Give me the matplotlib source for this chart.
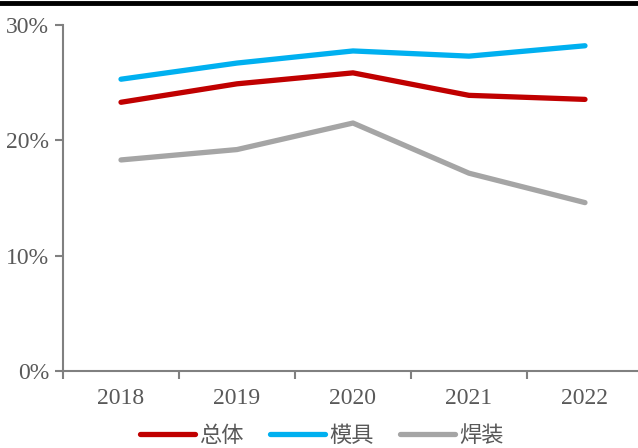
import matplotlib
matplotlib.use("Agg")
from matplotlib import pyplot as plt
from matplotlib.ticker import FuncFormatter, FixedLocator, NullFormatter

years = ["2018", "2019", "2020", "2021", "2022"]
total = [23.3, 24.9, 25.85, 23.9, 23.55]
mould = [25.3, 26.7, 27.75, 27.3, 28.2]
welding = [18.3, 19.2, 21.5, 17.15, 14.6]

labels = ["总体", "模具", "焊装"]
colors = ["#C00000", "#00B0F0", "#A5A5A5"]

tick_color = "#595959"
axis_color = "#808080"

fig = plt.figure(figsize=(6.38, 4.48), dpi=100)
ax = fig.add_axes([63 / 638, 1 - 371 / 448, 1 - 63 / 638, (371 - 25) / 448])

x = range(len(years))
for series, label, color in zip([total, mould, welding], labels, colors):
    ax.plot(x, series, color=color, lw=3.8, solid_capstyle="round",
            solid_joinstyle="round", label=label)

ax.set_ylim(0, 30)
ax.set_xlim(-0.5, 4.457)
ax.set_yticks([0, 10, 20, 30])
ax.yaxis.set_major_formatter(FuncFormatter(lambda v, p: f"{int(v)}%"))

# category labels centered, tick marks between categories
ax.set_xticks(list(x))
ax.set_xticklabels(years)
ax.tick_params(axis="x", which="major", length=0, pad=12)
ax.xaxis.set_minor_locator(FixedLocator([-0.5, 0.5, 1.5, 2.5, 3.5]))
ax.xaxis.set_minor_formatter(NullFormatter())
ax.tick_params(axis="x", which="minor", length=6, width=1.5, color=axis_color, direction="out")
ax.tick_params(axis="y", length=6, width=1.5, color=axis_color, direction="out", pad=4)

for lab in ax.get_xticklabels() + ax.get_yticklabels():
    lab.set_fontfamily("Liberation Serif")
    lab.set_fontsize(17)
    lab.set_color(tick_color)

for side in ["top", "right"]:
    ax.spines[side].set_visible(False)
for side in ["left", "bottom"]:
    ax.spines[side].set_color(axis_color)
    ax.spines[side].set_linewidth(1.5)

# black rule along the top of the figure
fig.add_artist(plt.Line2D([0, 1], [1 - 3 / 448, 1 - 3 / 448], color="black",
                          lw=3.5, transform=fig.transFigure))

leg = fig.legend(loc="center", bbox_to_anchor=(322 / 638, 1 - 435 / 448), ncol=3,
                 frameon=False, handlelength=2.45, handletextpad=0.2,
                 columnspacing=1.2, borderaxespad=0,
                 prop={"family": ["Noto Sans CJK SC", "DejaVu Sans"], "size": 16})
for t in leg.get_texts():
    t.set_color(tick_color)

fig.savefig("out.png", dpi=100)
